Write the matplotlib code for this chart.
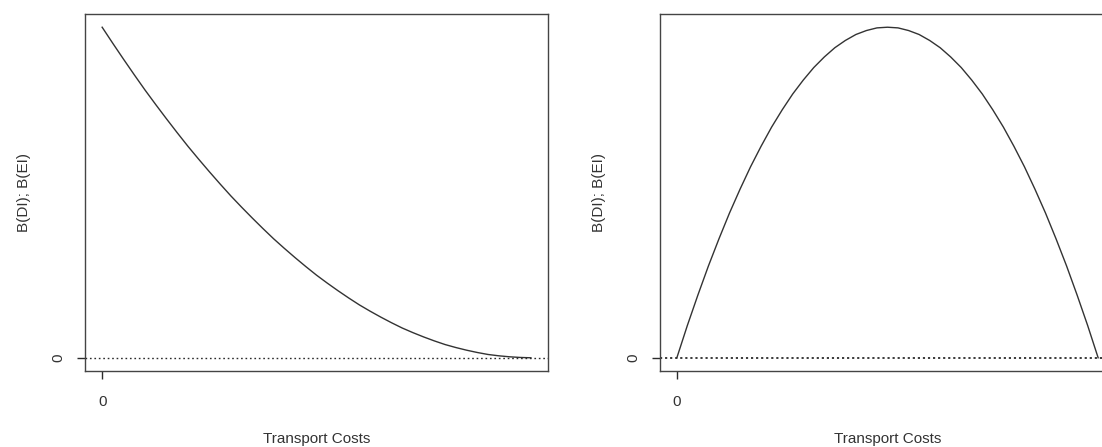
import matplotlib
matplotlib.use("Agg")
import matplotlib.pyplot as plt

plt.rcParams['font.family'] = ['Liberation Sans', 'DejaVu Sans']

# Transport cost grid (relative units, 0 .. 1)
transport_costs = [0.000, 0.025, 0.050, 0.075, 0.100, 0.125, 0.150, 0.175, 0.200, 0.225,
                   0.250, 0.275, 0.300, 0.325, 0.350, 0.375, 0.400, 0.425, 0.450, 0.475,
                   0.500, 0.525, 0.550, 0.575, 0.600, 0.625, 0.650, 0.675, 0.700, 0.725,
                   0.750, 0.775, 0.800, 0.825, 0.850, 0.875, 0.900, 0.925, 0.950, 0.975,
                   1.000]

# Left panel: benefit falling with transport costs
benefit_left = [1.000, 0.951, 0.903, 0.856, 0.810, 0.766, 0.723, 0.681, 0.640, 0.601,
                0.563, 0.526, 0.490, 0.456, 0.423, 0.391, 0.360, 0.331, 0.303, 0.276,
                0.250, 0.226, 0.203, 0.181, 0.160, 0.141, 0.123, 0.106, 0.090, 0.076,
                0.063, 0.051, 0.040, 0.031, 0.023, 0.016, 0.010, 0.006, 0.003, 0.001,
                0.000]

# Right panel: hump-shaped benefit
benefit_right = [0.000, 0.098, 0.190, 0.278, 0.360, 0.438, 0.510, 0.578, 0.640, 0.698,
                 0.750, 0.798, 0.840, 0.878, 0.910, 0.938, 0.960, 0.978, 0.990, 0.998,
                 1.000, 0.998, 0.990, 0.978, 0.960, 0.938, 0.910, 0.878, 0.840, 0.798,
                 0.750, 0.698, 0.640, 0.578, 0.510, 0.438, 0.360, 0.278, 0.190, 0.098,
                 0.000]

x_ticks = [0]
x_tick_labels = ["0"]
y_ticks = [0]
y_tick_labels = ["0"]

x_label = "Transport Costs"
y_label = "B(DI); B(EI)"

TEXT = "#333333"
LINE = "#333333"
FS = 11

fig = plt.figure(figsize=(11.02, 4.47), dpi=100)
ax_l = fig.add_axes([85 / 1102, 76 / 447, 463 / 1102, 357 / 447])
ax_r = fig.add_axes([660 / 1102, 76 / 447, 455 / 1102, 357 / 447])

panels = [(ax_l, benefit_left, (0, (1.2, 2.0)), 1.0),
          (ax_r, benefit_right, (0, (1.2, 1.6)), 1.3)]

for ax, series, dot_style, dot_lw in panels:
    ax.plot(transport_costs, series, color=LINE, lw=1.0)
    ax.axhline(0, color="#2b2b2b", lw=dot_lw, linestyle=dot_style)
    ax.set_xlim(-0.04, 1.04)
    ax.set_ylim(-0.04, 1.04)
    ax.set_xticks(x_ticks)
    ax.set_xticklabels(x_tick_labels)
    ax.set_yticks(y_ticks)
    ax.set_yticklabels(y_tick_labels, rotation=90, va='center')
    ax.tick_params(axis='both', length=6, width=1.0, color="#2b2b2b",
                   labelsize=FS, labelcolor=TEXT)
    ax.tick_params(axis='x', pad=11)
    ax.tick_params(axis='y', pad=8)
    for s in ax.spines.values():
        s.set_color("#444444")
        s.set_linewidth(1.0)
    ax.set_xlabel(x_label, fontsize=FS, color=TEXT, labelpad=17)
    ax.set_ylabel(y_label, fontsize=FS, color=TEXT, labelpad=15)

fig.savefig("out.png", dpi=100)
